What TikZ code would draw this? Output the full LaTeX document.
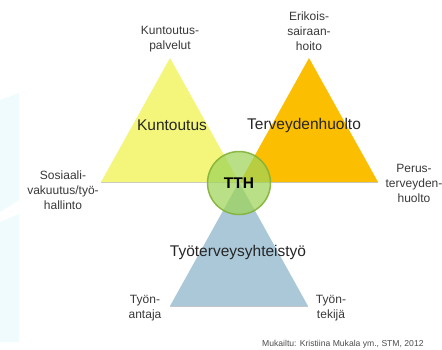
\documentclass[tikz,border=0pt]{standalone}
\usepackage{fontspec}
\setmainfont{Liberation Sans}
\usetikzlibrary{positioning}
\definecolor{kyellow}{RGB}{243,246,122}
\definecolor{korange}{RGB}{252,190,0}
\definecolor{kblue}{RGB}{170,200,216}
\definecolor{kgreen}{RGB}{158,212,88}
\definecolor{kgreenline}{RGB}{132,178,56}
\definecolor{kbg}{RGB}{240,251,253}

\begin{document}
\begin{tikzpicture}
  [x=1pt, y=-1pt,
   side/.style={align=center, font=\fontsize{12}{15}\selectfont, text=black!78, inner sep=0pt},
   title/.style={font=\fontsize{15.5}{18}\selectfont, text=black!85, inner sep=0pt},
   hub/.style={circle, minimum size=63pt, fill=kgreen, fill opacity=0.72,
     draw=kgreenline, draw opacity=0.9, line width=1.5pt, text opacity=1,
     font=\bfseries\fontsize{15.5}{18}\selectfont}]
  \useasboundingbox (0,0) rectangle (442,349);
  % faint background
  \fill[kbg] (0,100) -- (19,93) -- (19,200) -- (0,212) -- cycle;
  \fill[kbg] (0,222) -- (19,214) -- (19,342) -- (0,342) -- cycle;

  \foreach \tname/\ax/\ay/\col in {kun/170/58/kyellow, ter/309/58/korange, tyo/239/182/kblue}{
    \coordinate (\tname-top) at (\ax,\ay);
    \coordinate (\tname-l) at ([shift={(-69,124)}]\tname-top);
    \coordinate (\tname-r) at ([shift={(69,124)}]\tname-top);
    \draw[gray!45, line width=1pt] ([yshift=-0.6pt]\tname-l) -- ([yshift=-0.6pt]\tname-r);
    \fill[\col] (\tname-top) -- (\tname-l) -- (\tname-r) -- cycle;
  }

  \node[hub] (tth) at (239,183) {TTH};

  \node[title] (kuntoutus) at (172,125) {Kuntoutus};
  \node[title] (terveys) at (304,125) {Terveydenhuolto};
  \node[title] (yhteistyo) at (238,252) {Työterveysyhteistyö};

  \node[side] (palvelut) at (170,39) {Kuntoutus-\\palvelut};
  \node[side] (erikois) at (309,31) {Erikois-\\sairaan-\\hoito};
  \node[side] (sosiaali) at (63,190) {Sosiaali-\\vakuutus/työ-\\hallinto};
  \node[side] (perus) at (414,183) {Perus-\\terveyden-\\huolto};
  \node[side] (antaja) at (145,308) {Työn-\\antaja};
  \node[side] (tekija) at (331,308) {Työn-\\tekijä};

  \node[anchor=base west, inner sep=0pt, text=black!70,
    font=\fontsize{8.6}{10}\selectfont] (lahde) at (262,346)
    {Mukailtu: Kristiina Mukala ym., STM, 2012};
\end{tikzpicture}
\end{document}
